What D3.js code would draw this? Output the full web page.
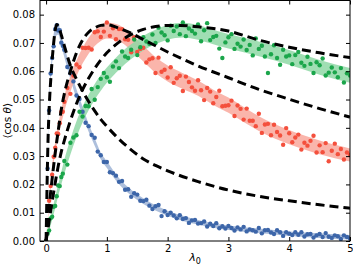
<!DOCTYPE html>
<html>
<head>
<meta charset="utf-8">
<script src="https://cdn.jsdelivr.net/npm/d3@7"></script>
<style>
  body { margin: 0; background: #fff; }
  text { font-family: "DejaVu Sans", sans-serif; }
</style>
</head>
<body>
<div id="chart"></div>
<script>
// sampling grid of the measurements (finer at the start)
var lam = d3.range(0, 0.3, 0.025).concat(d3.range(0.3, 5.0001, 0.05));

var blueVals = [
  0.0000, 0.0256, 0.0461, 0.0592, 0.0647, 0.0688, 0.0749, 0.0763, 0.0744, 0.0745, 0.0701, 0.0690,
  0.0676, 0.0615, 0.0593, 0.0564, 0.0514, 0.0502, 0.0457, 0.0418, 0.0406, 0.0375, 0.0365, 0.0316, 0.0303, 0.0279,
  0.0279, 0.0243, 0.0240, 0.0231, 0.0209, 0.0212, 0.0181, 0.0183, 0.0156, 0.0169, 0.0164, 0.0142, 0.0141, 0.0146,
  0.0125, 0.0113, 0.0123, 0.0127, 0.0088, 0.0105, 0.0092, 0.0100, 0.0090, 0.0080, 0.0091, 0.0078, 0.0081, 0.0064,
  0.0073, 0.0074, 0.0062, 0.0063, 0.0069, 0.0051, 0.0061, 0.0053, 0.0063, 0.0045, 0.0052, 0.0044, 0.0053, 0.0046,
  0.0037, 0.0048, 0.0041, 0.0050, 0.0034, 0.0041, 0.0038, 0.0033, 0.0046, 0.0027, 0.0038, 0.0039, 0.0030, 0.0025,
  0.0038, 0.0031, 0.0018, 0.0031, 0.0026, 0.0021, 0.0031, 0.0022, 0.0031, 0.0016, 0.0024, 0.0025, 0.0012, 0.0020,
  0.0025, 0.0014, 0.0028, 0.0015, 0.0011, 0.0020, 0.0017, 0.0007, 0.0020, 0.0014, 0.0009
];

var redVals = [
  0.0000, 0.0062, 0.0142, 0.0194, 0.0234, 0.0298, 0.0330, 0.0380, 0.0378, 0.0416, 0.0456, 0.0457,
  0.0492, 0.0541, 0.0520, 0.0585, 0.0624, 0.0614, 0.0683, 0.0682, 0.0683, 0.0677, 0.0738, 0.0741, 0.0721, 0.0740,
  0.0772, 0.0725, 0.0752, 0.0713, 0.0749, 0.0749, 0.0713, 0.0711, 0.0667, 0.0720, 0.0668, 0.0679, 0.0683, 0.0631,
  0.0642, 0.0646, 0.0594, 0.0648, 0.0598, 0.0605, 0.0578, 0.0614, 0.0559, 0.0575, 0.0584, 0.0530, 0.0581, 0.0562,
  0.0543, 0.0531, 0.0568, 0.0533, 0.0498, 0.0541, 0.0528, 0.0487, 0.0509, 0.0531, 0.0476, 0.0478, 0.0480, 0.0496,
  0.0442, 0.0479, 0.0467, 0.0429, 0.0468, 0.0425, 0.0425, 0.0406, 0.0450, 0.0382, 0.0412, 0.0414, 0.0374, 0.0411,
  0.0385, 0.0373, 0.0340, 0.0399, 0.0381, 0.0349, 0.0366, 0.0376, 0.0323, 0.0347, 0.0337, 0.0354, 0.0372, 0.0313,
  0.0338, 0.0314, 0.0346, 0.0282, 0.0319, 0.0344, 0.0307, 0.0325, 0.0288, 0.0313, 0.0304
];

var greenVals = [
  0.0000, 0.0026, 0.0037, 0.0080, 0.0086, 0.0121, 0.0124, 0.0158, 0.0196, 0.0194, 0.0226, 0.0238,
  0.0283, 0.0270, 0.0347, 0.0366, 0.0374, 0.0457, 0.0440, 0.0477, 0.0476, 0.0537, 0.0499, 0.0544, 0.0573, 0.0594,
  0.0579, 0.0563, 0.0617, 0.0635, 0.0611, 0.0670, 0.0652, 0.0647, 0.0676, 0.0712, 0.0657, 0.0685, 0.0720, 0.0705,
  0.0697, 0.0730, 0.0700, 0.0754, 0.0737, 0.0727, 0.0709, 0.0761, 0.0742, 0.0758, 0.0731, 0.0772, 0.0724, 0.0751,
  0.0742, 0.0733, 0.0765, 0.0706, 0.0745, 0.0770, 0.0710, 0.0721, 0.0725, 0.0680, 0.0647, 0.0702, 0.0720, 0.0731,
  0.0679, 0.0697, 0.0687, 0.0712, 0.0675, 0.0693, 0.0656, 0.0716, 0.0679, 0.0690, 0.0652, 0.0594, 0.0660, 0.0692,
  0.0647, 0.0623, 0.0676, 0.0652, 0.0656, 0.0625, 0.0657, 0.0668, 0.0630, 0.0619, 0.0651, 0.0626, 0.0594, 0.0632,
  0.0621, 0.0645, 0.0585, 0.0595, 0.0613, 0.0596, 0.0579, 0.0611, 0.0560, 0.0593, 0.0585
];

// shaded bands: mean and half width
var bandLam   = [0, 0.05, 0.1, 0.15, 0.2, 0.25, 0.3, 0.4, 0.5, 0.6, 0.7, 0.8, 0.9, 1.0, 1.2, 1.4, 1.6, 1.8, 2.0, 2.25, 2.5, 2.75, 3.0, 3.5, 4.0, 4.5, 5.0];
var blueMean  = [0, 0.047, 0.065, 0.074, 0.075, 0.071, 0.067, 0.059, 0.052, 0.046, 0.040, 0.035, 0.030, 0.027, 0.0212, 0.0171, 0.0141, 0.0117, 0.0098, 0.0080, 0.0066, 0.0055, 0.0047, 0.0036, 0.0026, 0.0019, 0.0013];
var blueHalf  = [0.0005, 0.0015, 0.002, 0.002, 0.002, 0.002, 0.002, 0.0018, 0.0016, 0.0015, 0.0014, 0.0013, 0.0012, 0.0012, 0.0011, 0.001, 0.001, 0.0009, 0.0009, 0.0009, 0.0008, 0.0008, 0.0008, 0.0008, 0.0008, 0.0008, 0.0008];
var redMean   = [0, 0.013, 0.025, 0.033, 0.039, 0.044, 0.0485, 0.0555, 0.061, 0.0655, 0.069, 0.0717, 0.0735, 0.0744, 0.0735, 0.0702, 0.0662, 0.0622, 0.0592, 0.0565, 0.054, 0.0508, 0.048, 0.0415, 0.0367, 0.0331, 0.0304];
var redHalf   = [0.0005, 0.001, 0.0015, 0.002, 0.0022, 0.0025, 0.0027, 0.0028, 0.0028, 0.0028, 0.0028, 0.0028, 0.0028, 0.0028, 0.0028, 0.0028, 0.0028, 0.0028, 0.0028, 0.0028, 0.0027, 0.0027, 0.0027, 0.0026, 0.0025, 0.0024, 0.0023];
var greenMean = [0, 0.0045, 0.009, 0.0136, 0.018, 0.0222, 0.0262, 0.0333, 0.0395, 0.0447, 0.049, 0.0527, 0.0559, 0.0586, 0.0632, 0.0669, 0.0699, 0.0721, 0.0737, 0.0745, 0.0737, 0.0721, 0.0706, 0.0679, 0.0649, 0.0614, 0.0585];
var greenHalf = [0.0005, 0.001, 0.0015, 0.002, 0.002, 0.0022, 0.0025, 0.0027, 0.0028, 0.0028, 0.0028, 0.0028, 0.0028, 0.0027, 0.0027, 0.0026, 0.0026, 0.0026, 0.0026, 0.0026, 0.0026, 0.0026, 0.0026, 0.0026, 0.0026, 0.0026, 0.0026];

// theory curves (dashed)
var theoryBlueLam  = [0, 0.01, 0.02, 0.03, 0.045, 0.06, 0.08, 0.1, 0.125, 0.15, 0.175, 0.2, 0.25, 0.3, 0.4, 0.5, 0.6, 0.7, 0.8, 0.9, 1.0, 1.2, 1.4, 1.6, 1.8, 2.0, 2.5, 3.0, 3.5, 4.0, 4.5, 5.0];
var theoryBlue     = [0, 0.012, 0.024, 0.034, 0.044, 0.051, 0.058, 0.064, 0.070, 0.0745, 0.0765, 0.0760, 0.0728, 0.069, 0.062, 0.0572, 0.053, 0.0493, 0.046, 0.043, 0.0405, 0.036, 0.0322, 0.029, 0.0267, 0.0248, 0.021, 0.018, 0.0158, 0.0142, 0.0128, 0.0116];
var theoryRedLam   = [0, 0.025, 0.05, 0.1, 0.15, 0.2, 0.25, 0.3, 0.4, 0.5, 0.6, 0.7, 0.8, 0.9, 1.0, 1.1, 1.2, 1.4, 1.6, 1.8, 2.0, 2.25, 2.5, 3.0, 3.5, 4.0, 4.5, 5.0];
var theoryRed      = [0, 0.006, 0.012, 0.022, 0.031, 0.039, 0.0465, 0.052, 0.060, 0.0665, 0.071, 0.0738, 0.0753, 0.0762, 0.0764, 0.0760, 0.0752, 0.0734, 0.0712, 0.069, 0.0668, 0.0643, 0.0619, 0.0577, 0.0536, 0.0501, 0.0468, 0.0438];
var theoryGreenLam = [0, 0.05, 0.1, 0.15, 0.2, 0.25, 0.3, 0.4, 0.5, 0.6, 0.7, 0.8, 0.9, 1.0, 1.2, 1.4, 1.6, 1.8, 2.0, 2.2, 2.5, 3.0, 3.5, 4.0, 4.5, 5.0];
var theoryGreen    = [0, 0.007, 0.014, 0.0205, 0.0265, 0.0315, 0.0355, 0.0425, 0.0485, 0.0535, 0.0575, 0.061, 0.064, 0.0665, 0.0703, 0.073, 0.0748, 0.0758, 0.0762, 0.0762, 0.0757, 0.0742, 0.071, 0.0685, 0.0665, 0.0648];

var xTicks = [0, 1, 2, 3, 4, 5];
var yTicks = [0, 0.01, 0.02, 0.03, 0.04, 0.05, 0.06, 0.07, 0.08];

function zip(xs, ys) {
  return xs.map(function(l, i) { return { l: l, v: ys[i] }; });
}
function band(xs, mean, half) {
  return xs.map(function(l, i) { return { l: l, lo: mean[i] - half[i], hi: mean[i] + half[i] }; });
}

function orientation_chart(container) {
  var _svg = container.append('svg').attr('width', 353).attr('height', 266),
      _left = 40, _right = 350, _top = 0.5, _bottom = 241,
      _x = d3.scaleLinear().domain([-0.1, 5.0]).range([_left, _right]),
      _y = d3.scaleLinear().domain([0, 0.085]).range([_bottom, _top]);

  var series = [
    { vals: blueVals,  band: band(bandLam, blueMean, blueHalf),   dot: '#3d66a9', fill: '#9fb4d6' },
    { vals: redVals,   band: band(bandLam, redMean, redHalf),     dot: '#f4503d', fill: '#f9a89c' },
    { vals: greenVals, band: band(bandLam, greenMean, greenHalf), dot: '#1ba64b', fill: '#8fd8a6' }
  ];
  var theories = [zip(theoryBlueLam, theoryBlue), zip(theoryRedLam, theoryRed), zip(theoryGreenLam, theoryGreen)];

  _svg.append('clipPath').attr('id', 'plot')
    .append('rect')
      .attr('x', _left).attr('y', _top)
      .attr('width', _right - _left).attr('height', _bottom - _top);

  var plot = _svg.append('g').attr('clip-path', 'url(#plot)');

  var area = d3.area()
    .x(function(d) { return _x(d.l); })
    .y0(function(d) { return _y(d.lo); })
    .y1(function(d) { return _y(d.hi); })
    .curve(d3.curveMonotoneX);

  plot.selectAll('path.band')
    .data(series)
    .enter().append('path')
      .attr('class', 'band')
      .attr('d', function(s) { return area(s.band); })
      .attr('fill', function(s) { return s.fill; })
      .attr('opacity', 0.85);

  series.forEach(function(s) {
    plot.append('g')
      .selectAll('circle')
      .data(s.vals)
      .enter().append('circle')
        .attr('cx', function(d, i) { return _x(lam[i]); })
        .attr('cy', function(d) { return _y(d); })
        .attr('r', 2.2)
        .attr('fill', s.dot);
  });

  var line = d3.line()
    .x(function(d) { return _x(d.l); })
    .y(function(d) { return _y(d.v); })
    .curve(d3.curveMonotoneX);

  plot.selectAll('path.theory')
    .data(theories)
    .enter().append('path')
      .attr('class', 'theory')
      .attr('d', line)
      .attr('fill', 'none')
      .attr('stroke', '#000')
      .attr('stroke-width', 3)
      .attr('stroke-dasharray', '9,5');

  // axes, ticks pointing inwards on all four sides
  var fmtY = d3.format('.2f');
  var gl = _svg.append('g').attr('transform', 'translate(' + _left + ',0)')
    .call(d3.axisLeft(_y).tickValues(yTicks).tickFormat(fmtY).tickSizeInner(-4).tickSizeOuter(0).tickPadding(5));
  var gb = _svg.append('g').attr('transform', 'translate(0,' + _bottom + ')')
    .call(d3.axisBottom(_x).tickValues(xTicks).tickFormat(d3.format('d')).tickSizeInner(-4).tickSizeOuter(0).tickPadding(4));
  var gr = _svg.append('g').attr('transform', 'translate(' + _right + ',0)')
    .call(d3.axisRight(_y).tickValues(yTicks).tickFormat('').tickSizeInner(-4).tickSizeOuter(0));
  var gt = _svg.append('g').attr('transform', 'translate(0,' + _top + ')')
    .call(d3.axisTop(_x).tickValues(xTicks).tickFormat('').tickSizeInner(-4).tickSizeOuter(0));

  [gl, gb, gr, gt].forEach(function(g) {
    g.select('.domain').remove();
    g.selectAll('text').attr('font-family', '"DejaVu Sans", sans-serif').attr('font-size', 10).attr('fill', '#000');
    g.selectAll('line').attr('stroke', '#000');
  });

  _svg.append('rect')
    .attr('x', _left).attr('y', _top)
    .attr('width', _right - _left).attr('height', _bottom - _top)
    .attr('fill', 'none').attr('stroke', '#000').attr('stroke-width', 1);

  var xl = _svg.append('text')
    .attr('x', (_left + _right) / 2).attr('y', 261)
    .attr('text-anchor', 'middle').attr('font-size', 11);
  xl.append('tspan').attr('font-style', 'italic').text('λ');
  xl.append('tspan').attr('font-size', 8).attr('dy', 2.5).text('0');

  var yl = _svg.append('text')
    .attr('transform', 'translate(11,' + (_top + _bottom) / 2 + ') rotate(-90)')
    .attr('text-anchor', 'middle').attr('font-size', 10.5);
  yl.append('tspan').text('⟨cos ');
  yl.append('tspan').attr('font-style', 'italic').text('θ');
  yl.append('tspan').text('⟩');

  return _svg;
}

orientation_chart(d3.select('#chart'));
</script>
</body>
</html>
